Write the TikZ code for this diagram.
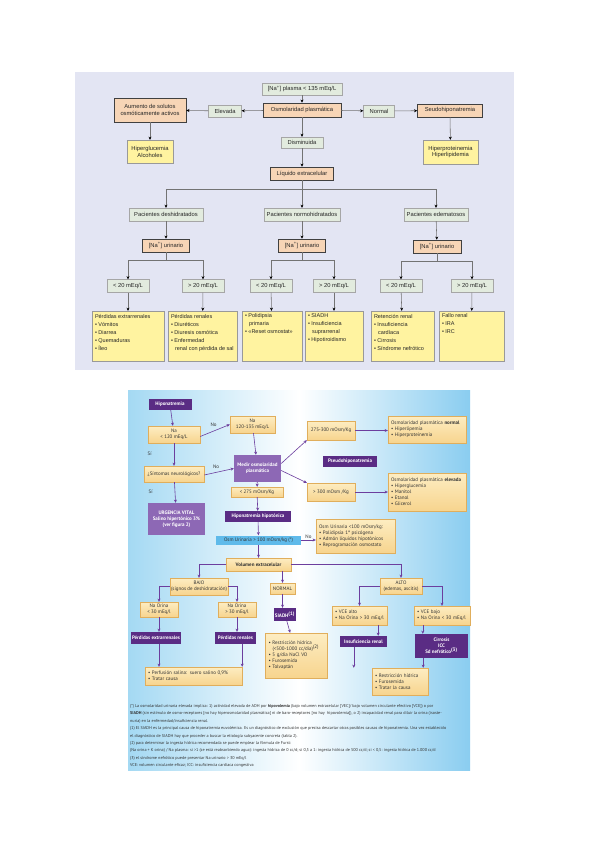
\documentclass[tikz,border=0pt]{standalone}
\usepackage{fontspec}
\setmainfont{Liberation Sans}
\newfontfamily\ptsansfam{PT Sans}
\usetikzlibrary{arrows.meta,shadows,calc}
\definecolor{topbg}{HTML}{E3E5F3}
\definecolor{gfill}{HTML}{E2EBDE}
\definecolor{ofill}{HTML}{F7D5B6}
\definecolor{yfill}{HTML}{FFF3A0}
\definecolor{dpur}{HTML}{5A2C84}
\definecolor{lpur}{HTML}{8D68B5}
\definecolor{ytop}{HTML}{FDEDC2}
\definecolor{ybot}{HTML}{F7D48E}
\definecolor{yedge}{HTML}{E0AE5C}
\definecolor{bbox}{HTML}{5FBAEA}
\definecolor{bgl}{HTML}{A4D9F3}
\definecolor{bgr}{HTML}{8ACDF0}
\definecolor{arr}{HTML}{6C3E9E}
\tikzset{
  wh/.style 2 args={minimum width=#1pt,minimum height=#2pt},
  tt/.style={font=\fontsize{5.8}{6.9}\selectfont, inner sep=1pt, align=center, text=black!85},
  sh/.style={drop shadow={shadow xshift=0.7pt,shadow yshift=-0.7pt,fill=black!70,opacity=1}},
  gbox/.style={tt, fill=gfill, draw=black!35, line width=0.3pt, sh},
  obox/.style={tt, fill=ofill, draw=black!75, line width=0.5pt, sh},
  ybx/.style={tt, fill=yfill, draw=black!40, line width=0.3pt, sh},
  ta/.style={draw=black!55, line width=0.55pt, -{Stealth[length=3.2pt,width=3pt,color=black]}},
  tl/.style={draw=black!55, line width=0.55pt},
  bt/.style={font=\ptsansfam\fontsize{5}{6}\selectfont, inner sep=1pt, align=center, text=black!80},
  ybox/.style={bt, top color=ytop, bottom color=ybot, draw=yedge, line width=0.4pt},
  lft/.style={align=left, text width=#1pt, inner sep=3pt},
  dbox/.style={bt, fill=dpur, text=white, font=\ptsansfam\bfseries\fontsize{5}{6}\selectfont},
  lbox/.style={bt, fill=lpur, text=white, font=\ptsansfam\bfseries\fontsize{5}{6}\selectfont},
  ba/.style={draw=arr, line width=0.6pt, -{Stealth[length=3.2pt,width=3pt]}},
  bl/.style={draw=arr, line width=0.6pt},
  lab/.style={font=\ptsansfam\fontsize{5}{6}\selectfont, text=black!80, inner sep=0pt},
  fn/.style={font=\ptsansfam\fontsize{4.2}{5}\selectfont, text=black!80, inner sep=0pt, anchor=base west},
}
\newcommand{\ytxt}[2]{\parbox[c][44pt][t]{#1pt}{\raggedright\fontsize{5.5}{8}\selectfont #2}}
\begin{document}
\begin{tikzpicture}[x=1pt,y=-1pt]
\useasboundingbox (0,0) rectangle (599,848);
\fill[white] (0,0) rectangle (599,848);
% ---------------- top diagram ----------------
\fill[topbg] (75,72) rectangle (514,370);
\node[gbox, wh={80}{12}] (na) at (302,89) {[Na\textsuperscript{+}] plasma < 135 mEq/L};
\node[obox, wh={78}{14}] (osm) at (302,110) {Osmolaridad plasmática};
\node[gbox, wh={33}{12}] (elev) at (225,111) {Elevada};
\node[obox, wh={72}{24}] (aum) at (150,110) {Aumento de solutos\\osmóticamente activos};
\node[ybx, wh={46}{23}] (hipg) at (150,151.5) {Hiperglucemia\\Alcoholes};
\node[gbox, wh={31}{12}] (norm) at (379,111) {Normal};
\node[obox, wh={65}{13}] (seudo) at (450,110.5) {Seudohiponatremia};
\node[ybx, wh={55}{24}] (hipp) at (450.5,152) {Hiperproteinemia\\Hiperlipidemia};
\node[gbox, wh={42}{11}] (dism) at (302,142.5) {Disminuida};
\node[obox, wh={63}{13}] (liq) at (302,173.5) {Líquido extracelular};
\node[gbox, wh={74}{13}] (pd) at (166,214.5) {Pacientes deshidratados};
\node[gbox, wh={76}{13}] (pn) at (302,214.5) {Pacientes normohidratados};
\node[gbox, wh={64}{13}] (pe) at (436,214.5) {Pacientes edematosos};
\node[obox, wh={47}{13}] (u1) at (166,245.5) {[Na\textsuperscript{+}] urinario};
\node[obox, wh={47}{13}] (u2) at (302,245.5) {[Na\textsuperscript{+}] urinario};
\node[obox, wh={48}{13}] (u3) at (437,246.5) {[Na\textsuperscript{+}] urinario};
\node[gbox, wh={42}{13}] (a1) at (128,286) {< 20 mEq/L};
\node[gbox, wh={42}{13}] (a2) at (203,286) {> 20 mEq/L};
\node[gbox, wh={42}{13}] (a3) at (271,286) {< 20 mEq/L};
\node[gbox, wh={42}{13}] (a4) at (334,286) {> 20 mEq/L};
\node[gbox, wh={42}{13}] (a5) at (401,286) {< 20 mEq/L};
\node[gbox, wh={42}{13}] (a6) at (472,286) {> 20 mEq/L};
\node[ybx, inner sep=3pt] (b1) at (128,336) {\ytxt{66}{Pérdidas extrarrenales\\• Vómitos\\• Diarrea\\• Quemaduras\\• Íleo}};
\node[ybx, inner sep=3pt] (b2) at (202.5,336) {\ytxt{63}{Pérdidas renales\\• Diuréticos\\• Diuresis osmótica\\• Enfermedad\\\hspace*{4pt}renal con pérdida de sal}};
\node[ybx, inner sep=3pt] (b3) at (272,336) {\ytxt{54}{• Polidipsia\\\hspace*{4pt}primaria\\• «Reset osmostat»}};
\node[ybx, inner sep=3pt] (b4) at (334,336) {\ytxt{52}{• SIADH\\• Insuficiencia\\\hspace*{4pt}suprarrenal\\• Hipotiroidismo}};
\node[ybx, inner sep=3pt] (b5) at (402.5,336) {\ytxt{57}{Retención renal\\• Insuficiencia\\\hspace*{4pt}cardíaca\\• Cirrosis\\• Síndrome nefrótico}};
\node[ybx, inner sep=3pt] (b6) at (471.5,336) {\ytxt{59}{Fallo renal\\• IRA\\• IRC}};
\draw[ta] (na) -- (osm);
\draw[ta] (osm) -- (elev);
\draw[ta] (elev) -- (aum);
\draw[ta] (aum) -- (hipg);
\draw[ta] (osm) -- (norm);
\draw[ta] (norm) -- (seudo);
\draw[ta] (seudo) -- (hipp);
\draw[ta] (osm) -- (dism);
\draw[ta] (dism) -- (liq);
\coordinate (j1) at (302,189);
\draw[tl] (liq) -- (j1);
\draw[ta] (j1) -| (pd.north);
\draw[ta] (j1) -| (pe.north);
\draw[ta] (j1) -- (pn);
\draw[ta] (pd) -- (u1);
\draw[ta] (pn) -- (u2);
\draw[ta] (pe) -- (u3);
\draw[ta] (u1.south) -- ++(0,8.5) -| (a1.north);
\draw[ta] (u1.south) -- ++(0,8.5) -| (a2.north);
\draw[ta] (u2.south) -- ++(0,8.5) -| (a3.north);
\draw[ta] (u2.south) -- ++(0,8.5) -| (a4.north);
\draw[ta] (u3.south) -- ++(0,8) -| (a5.north);
\draw[ta] (u3.south) -- ++(0,8) -| (a6.north);
\draw[ta] (a1) -- (b1);
\draw[ta] (a2) -- (b2);
\draw[ta] (a3) -- (b3);
\draw[ta] (a4) -- (b4);
\draw[ta] (a5) -- (b5);
\draw[ta] (a6) -- (b6);
% ---------------- bottom diagram ----------------
\fill[left color=bgl, right color=bgr, middle color=white] (128,390) rectangle (470,770);
\node[dbox, wh={43}{11}] (hipo) at (170,404.5) {Hiponatremia};
\node[ybox, wh={52}{17}] (na120) at (174,434.5) {Na\\< 120 mEq/L};
\node[ybox, wh={60}{16}] (sint) at (174,474) {¿Síntomas neurológicos?};
\node[lbox, wh={57}{32}] (urg) at (176.5,519) {URGENCIA VITAL\\Salino hipertónico 3\%\\(ver figura 2)};
\node[ybox, wh={45}{17}] (na135) at (252.5,424.5) {Na\\120-135 mEq/L};
\node[lbox, wh={47}{27}] (medir) at (257.5,468.5) {Medir osmolaridad\\plasmática};
\node[ybox, wh={52}{10}] (m275) at (257,492) {< 275 mOsm/Kg};
\node[dbox, wh={66}{11}] (hhipo) at (258,516.5) {Hiponatremia hipotónica};
\node[ybox, wh={48}{19}] (ma) at (331,430.5) {275-300 mOsm/Kg};
\node[ybox, lft=72, minimum height=27pt] (onorm) at (427,429.5) {Osmolaridad plasmática \textbf{normal}\\• Hiperlipemia\\• Hiperproteinemia};
\node[dbox, wh={54}{11}] (pseudo) at (350,461.5) {Pseudohiponatremia};
\node[ybox, wh={48}{18}] (mb) at (331,492) {> 300 mOsm /Kg};
\node[ybox, lft=72, minimum height=38pt] (oelev) at (427,492) {Osmolaridad plasmática \textbf{elevada}\\• Hiperglucemia\\• Manitol\\• Etanol\\• Glicerol};
\node[bt, fill=bbox, wh={85}{9}] (osmu) at (258.5,540) {Osm Urinaria > 100 mOsm/kg (*)};
\node[ybox, lft=73, minimum height=34pt] (osmu2) at (355.5,536) {Osm Urinaria <100 mOsm/kg:\\• Polidipsia 1ª psicógena\\• Admón líquidos hipotónicos\\• Reprogramación osmostato};
\node[ybox, wh={65}{13}, font=\ptsansfam\bfseries\fontsize{5}{6}\selectfont] (vol) at (258.5,564.5) {Volumen extracelular};
\node[ybox, wh={58}{17}] (bajo) at (199,586.5) {BAJO\\(signos de deshidratación)};
\node[ybox, wh={25}{11}] (normal) at (282.5,588.5) {NORMAL};
\node[ybox, wh={42}{16}] (alto) at (401,586) {ALTO\\(edemas, ascitis)};
\node[ybox, wh={38}{15}] (nao1) at (159,609.5) {Na Orina\\< 30 mEq/l};
\node[ybox, wh={38}{15}] (nao2) at (237,609.5) {Na Orina\\> 30 mEq/l};
\node[dbox, wh={22}{13}] (siadh) at (285,614.5) {SIADH\textsuperscript{(1)}};
\node[ybox, lft=49, minimum height=19pt] (vce1) at (359.5,615.5) {• VCE alto\\• Na Orina > 30 mEq/l};
\node[ybox, lft=50, minimum height=19pt] (vce2) at (442,615.5) {• VCE bajo\\• Na Orina < 30 mEq/l};
\node[dbox, wh={50}{12}] (pext) at (156,638) {Pérdidas extrarrenales};
\node[dbox, wh={41}{12}] (pren) at (235.5,638) {Pérdidas renales};
\node[dbox, wh={47}{11}] (insuf) at (363.5,641.5) {Insuficiencia renal};
\node[dbox, wh={53}{24}] (cirr) at (441.5,646) {Cirrosis\\ICC\\Sd nefrótico\textsuperscript{(3)}};
\node[ybox, lft=56, minimum height=45pt] (siadht) at (296.5,655.5) {• Restricción hídrica\\\hspace*{4pt}(<500-1000 cc/día)\textsuperscript{(2)}\\• 5 g/día NaCl VO\\• Furosemida\\• Tolvaptán};
\node[ybox, lft=91, minimum height=18pt] (perf) at (193.5,676) {• Perfusión salina: suero salino 0,9\%\\• Tratar causa};
\node[ybox, lft=50, minimum height=27pt] (restr) at (400,681.5) {• Restricción hídrica\\• Furosemida\\• Tratar la causa};
% connectors
\draw[ba] (hipo) -- (na120);
\draw[ba] (na120) -- (sint) node[lab, pos=0.45, left=22pt] {Sí};
\draw[ba] (sint) -- (urg) node[lab, pos=0.45, left=22pt] {Sí};
\draw[ba] (na120.east) ++(0,2) -- (na135.west) node[lab, pos=0.45, above=4pt] {No};
\draw[ba] (sint.east) ++(0,1) -- (medir.west) node[lab, pos=0.4, above=4pt] {No};
\draw[ba] (na135) -- (medir);
\draw[ba] (medir) -- (m275);
\draw[ba] (m275) -- (hhipo);
\draw[ba] (medir.east) ++(0,-5) -- (ma.south west);
\draw[ba] (medir.east) ++(0,2) -- (mb.north west);
\draw[ba] (ma) -- (onorm.west |- ma);
\draw[ba] (mb) -- (oelev.west |- mb);
\draw[ba] (hhipo) -- (osmu);
\draw[ba] (osmu) -- (osmu2.west |- osmu) node[lab, midway, above=1.5pt] {No};
\draw[ba] (osmu) -- (vol);
\draw[ba] (vol.west) -| (bajo.north);
\draw[ba] (vol.east) -| (alto.north);
\draw[ba] (normal.north |- vol.south) -- (normal.north);
\draw[ba] (bajo.west) -| (nao1.north);
\draw[ba] (bajo.east) -| (nao2.north);
\draw[ba] (alto.west) -| (vce1.north);
\draw[ba] (alto.east) -| (vce2.north);
\draw[ba] (normal) -- (siadh.north -| normal);
\draw[ba] (nao1) -- (pext.north -| nao1);
\draw[ba] (nao2) -- (pren.north -| nao2);
\draw[ba] ($(vce1.south east)+(-9,0)$) -- ($(insuf.north east)+(-9,0)$);
\draw[ba] ($(vce2.south west)+(9,0)$) -- (cirr.north -| {$(vce2.south west)+(9,0)$});
\draw[ba] (siadh) -- (siadht);
\draw[ba] (pext.south -| nao1) -- (perf.north -| nao1);
\draw[ba] (pren.south -| perf.north east) -- (perf.north east);
\draw[ba] ($(insuf.south west)+(14,0)$) -- (restr.north -| {$(insuf.south west)+(14,0)$});
\draw[ba] (cirr.south -| restr.north east) ++(-5,0) -- ($(restr.north east)+(-5,0)$);
% footnote
\node[fn] (fn1) at (130,707.5) {(*) La osmolaridad urinaria elevada implica: 1) actividad elevada de ADH por \textbf{hipovolemia} (bajo volumen extracelular [VEC]/ bajo volumen circulante efectivo [VCE]) o por};
\node[fn] (fn2) at (130,714.9) {\textbf{SIADH} (sin estímulo de osmo-receptores [no hay hiperosmolaridad plasmática] ni de baro-receptores [no hay\ \ hipovolemia]), o 2) incapacidad renal para diluir la orina (isoste-};
\node[fn] (fn3) at (130,722.3) {nuria) en la enfermedad/insuficiencia renal.};
\node[fn] (fn4) at (130,729.7) {(1) El SIADH es la principal causa de hiponatremia euvolémica. Es un diagnóstico de exclusión que precisa descartar otras posibles causas de hiponatremia. Una vez establecido};
\node[fn] (fn5) at (130,737.1) {el diagnóstico de SIADH hay que proceder a buscar la etiología subyacente concreta (tabla 2).};
\node[fn] (fn6) at (130,744.5) {(2) para determinar la ingesta hídrica recomendada se puede emplear la fórmula de Furst:};
\node[fn] (fn7) at (130,751.9) {(Na orina + K orina) / Na plasma: si >1 (se está reabsorbiendo agua): ingesta hídrica de 0 cc/d; si 0,5 a 1: ingesta hídrica de 500 cc/d; si < 0,5: ingesta hídrica de 1.000 cc/d};
\node[fn] (fn8) at (130,759.3) {(3) el síndrome nefrótico puede presentar Na urinario > 30 mEq/l};
\node[fn] (fn9) at (130,766.7) {VCE: volumen circulante eficaz; ICC: insuficiencia cardíaca congestiva};
\end{tikzpicture}
\end{document}
